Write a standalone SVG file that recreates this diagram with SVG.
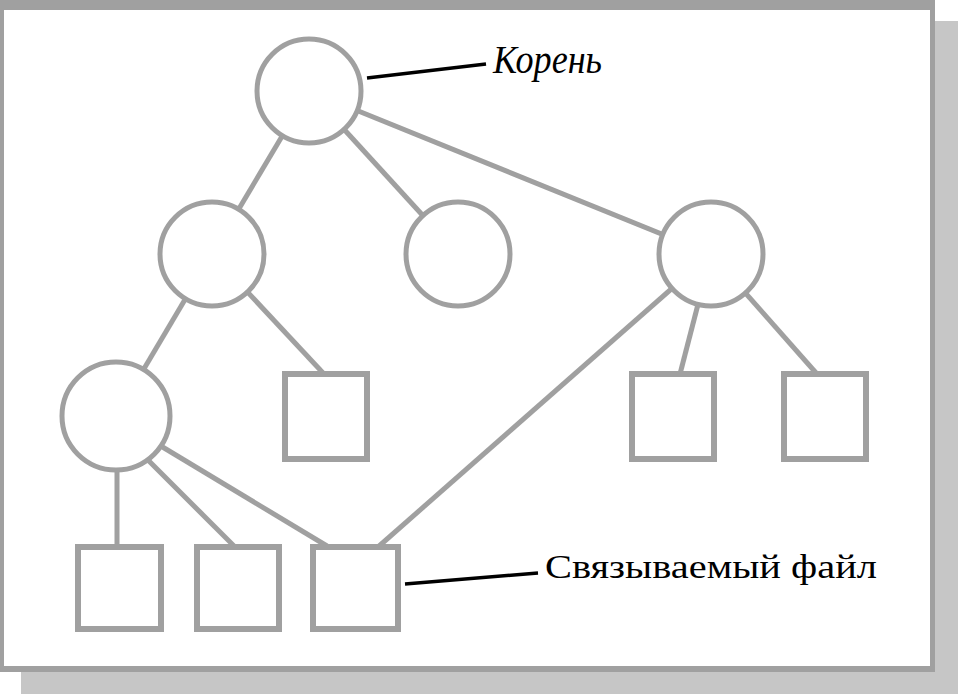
<svg xmlns="http://www.w3.org/2000/svg" width="958" height="694" viewBox="0 0 958 694">
<style>
.edge{stroke:#a0a0a0;stroke-width:5;fill:none}
.node{stroke:#a0a0a0;stroke-width:5;fill:#ffffff}
.box{stroke:#a0a0a0;stroke-width:6;fill:#ffffff}
.ptr{stroke:#000000;stroke-width:3.5;fill:none}
.lbl{font-family:"Liberation Serif","Times New Roman",serif;fill:#000000}
</style>
<rect x="0" y="0" width="958" height="694" fill="#ffffff"/>
<g id="frame">
<rect x="935" y="21" width="23" height="673" fill="#c6c6c6"/>
<rect x="21" y="672" width="937" height="22" fill="#c6c6c6"/>
<rect x="0" y="0" width="935" height="672" fill="#a0a0a0"/>
<rect x="4" y="10" width="926" height="656" fill="#ffffff"/>
</g>
<g id="connectors">
<line class="edge" x1="309" y1="91" x2="212" y2="254"/>
<line class="edge" x1="309" y1="91" x2="458" y2="254"/>
<line class="edge" x1="309" y1="91" x2="711" y2="254"/>
<line class="edge" x1="212" y1="254" x2="116" y2="416"/>
<line class="edge" x1="212" y1="254" x2="324" y2="374"/>
<line class="edge" x1="711" y1="254" x2="680" y2="374"/>
<line class="edge" x1="711" y1="254" x2="817" y2="374"/>
<line class="edge" x1="711" y1="254" x2="378" y2="547"/>
<line class="edge" x1="117" y1="416" x2="117" y2="547"/>
<line class="edge" x1="116" y1="428" x2="235" y2="547"/>
<line class="edge" x1="116" y1="419" x2="327" y2="546"/>
<line class="ptr" x1="367" y1="78" x2="486" y2="64"/>
<line class="ptr" x1="405" y1="584" x2="538" y2="573"/>
</g>
<g id="root"><circle class="node" cx="309" cy="91" r="52"/></g>
<g id="n-left"><circle class="node" cx="212" cy="254" r="52"/></g>
<g id="n-mid"><circle class="node" cx="458" cy="254" r="52"/></g>
<g id="n-right"><circle class="node" cx="711" cy="254" r="52"/></g>
<g id="n-lowleft"><circle class="node" cx="116" cy="416" r="54"/></g>
<g id="f-left"><rect class="box" x="285" y="374" width="82" height="85"/></g>
<g id="f-right1"><rect class="box" x="632" y="374" width="82" height="85"/></g>
<g id="f-right2"><rect class="box" x="784" y="374" width="82" height="85"/></g>
<g id="f-bot1"><rect class="box" x="78" y="547" width="83" height="82"/></g>
<g id="f-bot2"><rect class="box" x="197" y="547" width="82" height="82"/></g>
<g id="f-bot3"><rect class="box" x="313" y="547" width="85" height="82"/></g>
<g id="labels">
<text class="lbl" x="493" y="73" font-size="40" font-style="italic" textLength="109" lengthAdjust="spacingAndGlyphs">Корень</text>
<text class="lbl" x="545" y="578" font-size="34" textLength="332" lengthAdjust="spacingAndGlyphs">Связываемый файл</text>
</g>
</svg>
